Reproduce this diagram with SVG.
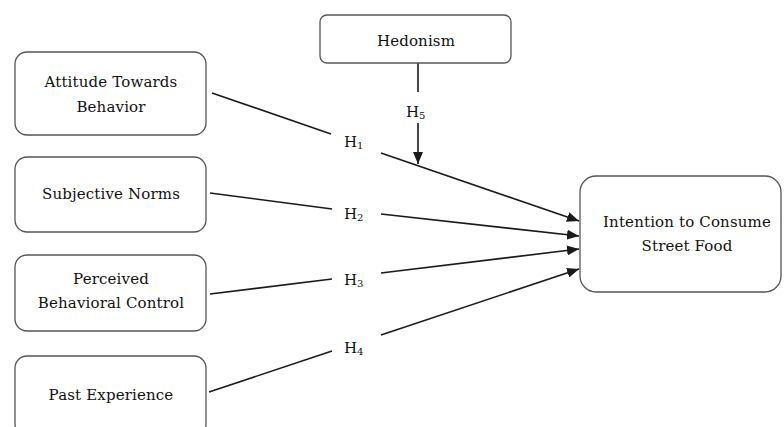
<svg xmlns="http://www.w3.org/2000/svg" width="784" height="427" viewBox="0 0 784 427">
  <style>
    .box { fill: #ffffff; stroke: #555555; stroke-width: 1.3; }
    .lbl { font-family: 'DejaVu Serif', serif; font-size: 15px; letter-spacing: 0.15px; fill: #111111; text-anchor: middle; }
    .hyp { font-family: 'DejaVu Serif', serif; font-size: 15px; fill: #111111; }
    .sub { font-size: 10px; }
    .link { stroke: #1a1a1a; stroke-width: 1.6; fill: none; }
  </style>
  <defs>
    <marker id="arrow" viewBox="0 0 12 10" refX="12" refY="5" markerWidth="12" markerHeight="10" markerUnits="userSpaceOnUse" orient="auto">
      <path d="M0,0 L12,5 L0,10 z" fill="#1a1a1a"/>
    </marker>
  </defs>
  <rect width="784" height="427" fill="#ffffff"/>

  <!-- connectors -->
  <g id="connectors">
    <line class="link" x1="212" y1="93" x2="331" y2="134"/>
    <line class="link" x1="381" y1="153" x2="579" y2="221" marker-end="url(#arrow)"/>
    <line class="link" x1="210" y1="193" x2="332" y2="209"/>
    <line class="link" x1="381" y1="214" x2="579" y2="236" marker-end="url(#arrow)"/>
    <line class="link" x1="210" y1="294" x2="332" y2="279"/>
    <line class="link" x1="381" y1="273" x2="579" y2="249" marker-end="url(#arrow)"/>
    <line class="link" x1="209" y1="392" x2="332" y2="351"/>
    <line class="link" x1="381" y1="335" x2="579" y2="269" marker-end="url(#arrow)"/>
    <line class="link" x1="418" y1="63" x2="418" y2="92"/>
    <line class="link" x1="418" y1="123" x2="418" y2="164" marker-end="url(#arrow)"/>
  </g>

  <!-- hypothesis labels -->
  <g id="labels">
    <text class="hyp" x="344" y="147">H<tspan class="sub" dy="2">1</tspan></text>
    <text class="hyp" x="344" y="219">H<tspan class="sub" dy="2">2</tspan></text>
    <text class="hyp" x="344" y="285">H<tspan class="sub" dy="2">3</tspan></text>
    <text class="hyp" x="344" y="353">H<tspan class="sub" dy="2">4</tspan></text>
    <text class="hyp" x="406" y="117">H<tspan class="sub" dy="2">5</tspan></text>
  </g>

  <g id="hedonism">
    <rect class="box" x="320" y="15" width="191" height="48" rx="7"/>
    <text class="lbl" x="416" y="46">Hedonism</text>
  </g>

  <g id="attitude">
    <rect class="box" x="15" y="52" width="191" height="83" rx="12"/>
    <text class="lbl" x="111" y="87">Attitude Towards</text>
    <text class="lbl" x="111" y="112">Behavior</text>
  </g>

  <g id="subjective-norms">
    <rect class="box" x="15" y="157" width="191" height="75" rx="12"/>
    <text class="lbl" x="111" y="199">Subjective Norms</text>
  </g>

  <g id="perceived-control">
    <rect class="box" x="15" y="255" width="191" height="76" rx="12"/>
    <text class="lbl" x="111" y="284">Perceived</text>
    <text class="lbl" x="111" y="308">Behavioral Control</text>
  </g>

  <g id="past-experience">
    <rect class="box" x="15" y="356" width="191" height="80" rx="12"/>
    <text class="lbl" x="111" y="400">Past Experience</text>
  </g>

  <g id="intention">
    <rect class="box" x="580" y="176" width="201" height="116" rx="16"/>
    <text class="lbl" x="687" y="227">Intention to Consume</text>
    <text class="lbl" x="687" y="251">Street Food</text>
  </g>
</svg>
